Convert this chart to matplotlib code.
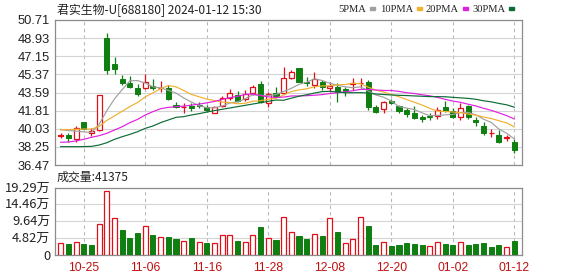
import numpy as np
import pandas as pd
import matplotlib
matplotlib.use("Agg")
import matplotlib.pyplot as plt
from matplotlib.patches import Rectangle

# --- données (60 séances) ---
dates = ["10-20", "10-23", "10-24", "10-25", "10-26", "10-27", "10-30", "10-31", "11-01", "11-02",
         "11-03", "11-06", "11-07", "11-08", "11-09", "11-10", "11-13", "11-14", "11-15", "11-16",
         "11-17", "11-20", "11-21", "11-22", "11-23", "11-24", "11-27", "11-28", "11-29", "11-30",
         "12-01", "12-04", "12-05", "12-06", "12-07", "12-08", "12-11", "12-12", "12-13", "12-14",
         "12-15", "12-18", "12-19", "12-20", "12-21", "12-22", "12-25", "12-26", "12-27", "12-28",
         "12-29", "01-02", "01-03", "01-04", "01-05", "01-08", "01-09", "01-10", "01-11", "01-12"]

opens = [39.33, 39.42, 38.99, 40.66, 39.58, 39.91, 48.91, 46.39, 44.88, 44.49,
         44.06, 44.00, 44.23, 43.99, 44.00, 42.36, 42.12, 42.26, 42.33, 42.20,
         41.61, 42.26, 43.02, 43.34, 42.95, 43.51, 44.39, 42.59, 43.57, 43.57,
         44.98, 45.96, 44.62, 44.33, 44.65, 44.00, 44.16, 43.93, 44.43, 44.49,
         44.65, 42.20, 41.94, 42.79, 42.26, 41.87, 41.61, 41.15, 41.31, 41.28,
         42.13, 41.81, 41.15, 42.26, 40.89, 40.30, 39.58, 39.42, 39.09, 38.76]
highs = [39.58, 39.64, 40.30, 40.73, 40.07, 43.34, 49.47, 47.11, 45.31, 45.21,
         44.39, 45.41, 44.88, 44.72, 44.33, 42.69, 42.53, 42.59, 42.69, 42.36,
         42.26, 43.25, 43.90, 43.77, 43.84, 44.33, 44.72, 43.67, 44.10, 46.13,
         45.80, 46.00, 45.08, 45.64, 44.82, 44.65, 44.49, 44.16, 44.98, 44.98,
         44.82, 42.36, 42.72, 42.92, 42.36, 42.03, 42.26, 41.38, 41.61, 42.13,
         42.79, 42.03, 42.53, 42.36, 41.22, 40.72, 39.97, 39.91, 39.42, 38.99]
lows = [39.09, 38.76, 38.70, 40.00, 39.35, 39.81, 45.41, 45.41, 44.33, 44.00,
        43.25, 43.93, 43.84, 43.67, 42.85, 42.03, 41.61, 41.81, 42.03, 41.71,
        41.54, 42.13, 42.85, 42.69, 42.79, 43.34, 42.53, 42.13, 43.11, 43.44,
        44.88, 44.58, 44.23, 44.00, 43.84, 43.67, 42.69, 43.25, 43.84, 44.00,
        41.87, 41.61, 41.54, 42.46, 41.61, 41.15, 40.95, 40.72, 40.89, 40.95,
        41.71, 41.05, 40.89, 40.95, 40.30, 39.42, 39.25, 38.66, 38.86, 37.68]
closes = [39.37, 39.09, 40.07, 40.02, 39.81, 43.34, 45.80, 45.85, 44.55, 44.16,
          43.44, 44.59, 44.01, 44.03, 42.92, 42.13, 42.16, 42.03, 42.26, 41.87,
          42.13, 43.02, 43.51, 42.79, 43.44, 44.10, 42.69, 43.44, 43.25, 44.98,
          45.64, 44.65, 44.49, 44.92, 44.16, 44.23, 43.67, 43.77, 44.49, 44.55,
          42.20, 41.71, 42.69, 42.59, 41.81, 41.48, 41.05, 41.02, 41.22, 41.87,
          41.81, 41.22, 42.03, 41.22, 40.72, 39.66, 39.62, 38.76, 39.19, 37.94]
# volume en 万
volumes = [3.34, 3.15, 3.63, 3.15, 2.87, 8.79, 18.3, 10.5, 7.16, 4.78,
           6.30, 8.21, 5.73, 5.06, 5.16, 4.58, 4.01, 4.87, 3.72, 3.44,
           3.44, 5.63, 5.63, 4.01, 3.72, 5.63, 8.02, 4.78, 4.30, 10.8,
           6.49, 5.44, 4.58, 5.92, 5.44, 10.5, 6.59, 3.34, 4.49, 10.8,
           8.31, 2.87, 3.63, 2.67, 2.87, 3.34, 3.15, 2.87, 2.48, 3.63,
           3.15, 2.87, 3.63, 2.87, 3.06, 3.44, 2.39, 2.87, 2.29, 4.1375]

# début des moyennes mobiles (séances antérieures non visibles)
ma5_head = [39.97, 39.85, 39.80, 39.72]
ma10_head = [39.91, 39.95, 39.98, 40.00, 40.00, 40.25, 40.85, 41.30, 41.75]
ma20_head = [38.70, 38.73, 38.83, 38.99, 39.19, 39.35, 39.58, 39.91, 40.23, 40.63,
             40.95, 41.38, 41.71, 42.00, 42.13, 42.20, 42.25, 42.35, 42.45]
ma30_head = [38.27, 38.27, 38.27, 38.28, 38.30, 38.43, 38.66, 38.99, 39.25, 39.48,
             39.74, 40.07, 40.30, 40.63, 40.89, 41.15, 41.22, 41.38, 41.51, 41.67,
             41.81, 41.94, 42.07, 42.20, 42.33, 42.46, 42.59, 42.72, 42.85]

price_ticks = np.linspace(36.47, 50.71, 9)
vol_top = 19.29
vol_labels = ["0", "4.82万", "9.64万", "14.46万", "19.29万"]
title = "君实生物-U[688180] 2024-01-12 15:30"
vol_title = "成交量:41375"

# --- couleurs ---
RED = "#e0101a"
GREEN = "#0f7f12"
MA_COLORS = {"5PMA": "#a0a0a0", "10PMA": "#f0b030", "20PMA": "#e020e0", "30PMA": "#0c6b36"}
CJK = ["Noto Sans CJK SC", "DejaVu Sans"]
NUM = ["Liberation Sans", "DejaVu Sans"]

o, h, l, c = (np.array(v) for v in (opens, highs, lows, closes))
x = np.arange(len(dates))


def moyenne(n, head):
    s = pd.Series(closes).rolling(n).mean()
    s.iloc[:n - 1] = head
    return s.values


mas = {"5PMA": moyenne(5, ma5_head), "10PMA": moyenne(10, ma10_head),
       "20PMA": moyenne(20, ma20_head), "30PMA": moyenne(30, ma30_head)}

W, H = 578, 276
fig = plt.figure(figsize=(W / 100, H / 100), dpi=100)


def box(left, top, right, bottom):
    return [left / W, 1 - bottom / H, (right - left) / W, (bottom - top) / H]


ax = fig.add_axes(box(55, 20, 522, 165))
axv = fig.add_axes(box(55, 187.5, 522, 255))

tick_idx = list(range(3, len(dates), 8))
for a in (ax, axv):
    a.set_xlim(-0.74, 60.0)
    for s in a.spines.values():
        s.set_color("#8c8c8c")
        s.set_linewidth(0.9)
    a.tick_params(length=0, labelsize=9.3, colors="#222222")
    for t in tick_idx:
        a.axvline(t, color="#b8b8b8", lw=0.8, ls=(0, (3, 3)), zorder=0)

# --- chandeliers ---
up = c >= o
lo_b = np.minimum(o, c)
hi_b = np.maximum(o, c)
haut = np.maximum(hi_b - lo_b, 0.03)
w = 0.66
ax.vlines(x[~up], l[~up], h[~up], color=GREEN, lw=0.9, zorder=2)
ax.bar(x[~up], haut[~up], bottom=lo_b[~up], width=w, color=GREEN, edgecolor=GREEN, lw=0.7, zorder=3)
ax.vlines(x[up], l[up], lo_b[up], color=RED, lw=0.9, zorder=2)
ax.vlines(x[up], hi_b[up], h[up], color=RED, lw=0.9, zorder=2)
ax.bar(x[up], haut[up], bottom=lo_b[up], width=w, facecolor="white", edgecolor=RED, lw=0.9, zorder=3)

for name, vals in mas.items():
    ax.plot(x, vals, color=MA_COLORS[name], lw=0.85, zorder=4)

ax.set_ylim(price_ticks[0], price_ticks[-1])
ax.set_yticks(price_ticks)
ax.set_yticklabels([f"{v:.2f}" for v in price_ticks], family=NUM)
ax.set_xticks([])
ax.grid(axis="y", color="#d4d4d4", lw=0.8, zorder=0)
ax.set_axisbelow(True)

# --- volume (couleur selon la clôture précédente) ---
vol_up = np.concatenate([[True], np.diff(c) > 0])
vol = np.array(volumes)
axv.bar(x[vol_up], vol[vol_up], width=w, facecolor="white", edgecolor=RED, lw=0.9, zorder=3)
axv.bar(x[~vol_up], vol[~vol_up], width=w, color=GREEN, edgecolor=GREEN, lw=0.7, zorder=3)
vticks = np.linspace(0, vol_top, 5)
axv.set_ylim(0, vol_top)
axv.set_yticks(vticks)
axv.set_yticklabels(vol_labels, family=CJK)
axv.grid(axis="y", color="#d4d4d4", lw=0.8, zorder=0)
axv.set_axisbelow(True)
axv.set_xticks(tick_idx)
axv.set_xticklabels([dates[i] for i in tick_idx], color="#c01010", family=NUM, fontsize=8.8)
axv.tick_params(axis="x", pad=5)

# --- textes ---
fig.text(57 / W, 1 - 10 / H, title, family=CJK, fontsize=8.6, va="center", ha="left", color="#222222")
fig.text(57 / W, 1 - 177 / H, vol_title, family=CJK, fontsize=8.6, va="center", ha="left", color="#222222")

# légende : début du texte (pixels), carré placé juste après le texte
legend_x = [338, 380, 426, 472]
renderer = fig.canvas.get_renderer()
for tx, (name, col) in zip(legend_x, MA_COLORS.items()):
    t = fig.text(tx / W, 1 - 9 / H, name, family=["Liberation Serif", "DejaVu Serif"], fontsize=7.6,
                 va="center", ha="left", color="#222222")
    bb = t.get_window_extent(renderer)
    fig.patches.append(Rectangle(((bb.x1 + 4) / W, 1 - 10 / H), 5 / W, 3 / H,
                                 transform=fig.transFigure, color=col))

fig.savefig("out.png", dpi=100)
